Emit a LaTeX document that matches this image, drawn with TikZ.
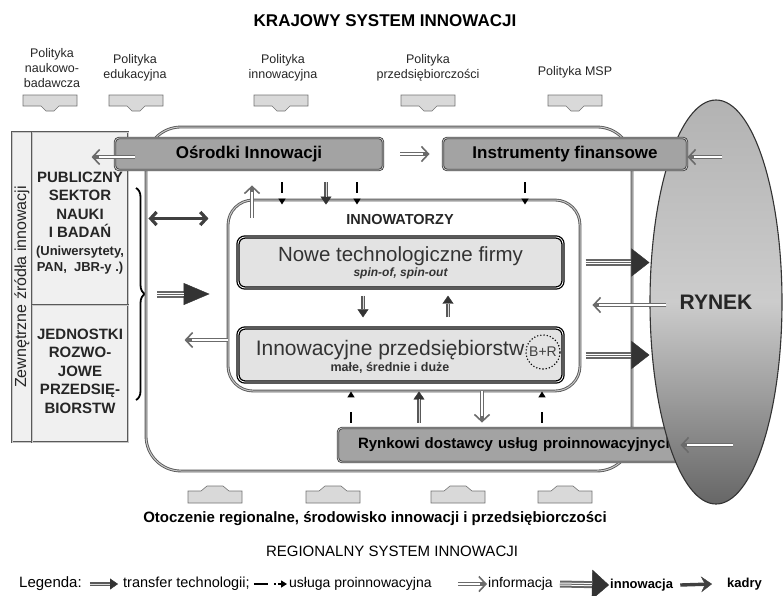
\documentclass[tikz,border=0pt]{standalone}
\usepackage{fontspec}
\setmainfont{Liberation Sans}
\usetikzlibrary{arrows.meta,calc,shapes.geometric,decorations.pathreplacing}

\newcommand{\fsz}[2]{\fontsize{#1}{#2}\selectfont}

\tikzset{
  ramka/.style={draw=black!65, double=black!22, double distance=1pt, line width=0.9pt},
  ksztalt/.style={draw=black!55, fill=black!15, line width=0.6pt},
  szary/.style={draw=black!75, double=black!12, double distance=0.6pt, line width=0.9pt, fill=black!36, rounded corners=4pt, inner sep=0pt, font=\fsz{17}{19}\bfseries},
  firma/.style={draw=black, double=white, double distance=0.8pt, line width=1.3pt, fill=black!11, rounded corners=7pt, inner sep=0pt},
  lewy/.style={ramka, fill=black!6, inner sep=0pt},
  lewytxt/.style={align=center, text=black!85, font=\fsz{15}{18.5}\bfseries},
  polityka/.style={align=center, text=black!85, font=\fsz{12.5}{15}},
  legenda/.style={anchor=west, inner sep=1pt, font=\fsz{14}{16}},
  info/.style={draw=black!58, line width=3.4pt, -{Straight Barb[length=7pt,width=15pt,line width=1.6pt]}, postaction={draw=white, line width=1.2pt, -, shorten >=7pt}},
  usluga/.style={black, line width=2pt, dash pattern=on 11pt off 20pt, -{Triangle[length=6pt,width=7pt]}},
  transfer/.style={draw=black!65, line width=3.2pt, -{Triangle[length=8pt,width=11pt,line width=0.4pt,color=black!80]}, postaction={draw=black!15, line width=0.9pt, -, shorten >=8pt}},
  innowacja/.style 2 args={draw=black!60, line width=7pt, -{Triangle[length=#1,width=#2,line width=0.4pt,color=black!80]}, postaction={draw=white, double=black!60, double distance=1pt, line width=1pt, -, shorten >=#1}},
  kadry/.style={draw=black!75, line width=3.4pt, -{Stealth[length=11pt,width=16pt,inset=4pt,line width=0.4pt]}},
  kadry2/.style={draw=black!75, line width=3.2pt, {Straight Barb[length=6pt,width=13pt]}-{Straight Barb[length=6pt,width=13pt]}},
}

\begin{document}
\begin{tikzpicture}[x=1pt, y=-1pt]
\useasboundingbox (0,0) rectangle (783,595);

\node (krajowy) at (385,21) {\fsz{17}{20}\bfseries KRAJOWY SYSTEM INNOWACJI};

\node[polityka] (pnb) at (52,68) {Polityka\\naukowo-\\badawcza};
\node[polityka] (ped) at (135,68) {Polityka\\edukacyjna};
\node[polityka] (pin) at (283,68) {Polityka\\innowacyjna};
\node[polityka] (ppr) at (428,68) {Polityka\\przedsiębiorczości};
\node[polityka] (pmsp) at (575,72) {Polityka MSP};

\foreach \x in {50,136,281,428,575}
  \draw[ksztalt] (\x-27,95) -- (\x+27,95) -- (\x+27,106) -- (\x+9,106) -- (\x+4,111) -- (\x-4,111) -- (\x-9,106) -- (\x-27,106) -- cycle;

\foreach \x in {215,333,458,565}
  \draw[ksztalt] (\x-27,503) -- (\x+27,503) -- (\x+27,491) -- (\x+14,491) -- (\x+8,486) -- (\x-8,486) -- (\x-14,491) -- (\x-27,491) -- cycle;

\node[lewy, minimum width=310pt, minimum height=20pt, rotate=90, text=black!85, font=\fsz{16}{18}] (zew) at (22,287) {Zewnętrzne źródła innowacji};
\node[lewy, minimum width=96pt, minimum height=173pt] (pub) at (80,218.5) {};
\node[lewytxt] (pubtxt) at (80,223) {PUBLICZNY\\SEKTOR\\NAUKI\\I BADAŃ\\[-1pt]{\fsz{13}{17}(Uniwersytety,}\\[-2pt]{\fsz{13}{17}PAN,~ JBR-y .)}};
\node[lewy, minimum width=96pt, minimum height=137pt] (jed) at (80,373.5) {};
\node[lewytxt] (jedtxt) at (80,371) {JEDNOSTKI\\ROZWO-\\JOWE\\PRZEDSIĘ-\\BIORSTW};

\draw[decorate, decoration={brace, amplitude=9pt}, line width=1.8pt] (136,188) -- (136,400);
\coordinate (brtip) at (145,294);

\draw[ramka, rounded corners=35pt] (146,127) rectangle (632,471);
\node[ramka, rounded corners=25pt, minimum width=352pt, minimum height=191pt, inner sep=0pt] (inn) at (404,295.5) {};
\node[font=\fsz{14.5}{16}\bfseries, text=black!85] (innlab) at (400,220) {INNOWATORZY};

\node[firma, minimum width=325pt, minimum height=51pt, align=center, text=black!80] (now) at (400.5,262.5) {{\fsz{20.5}{22}Nowe technologiczne firmy}\\[1pt]{\fsz{12}{14}\bfseries\itshape spin-of, spin-out}};
\node[firma, minimum width=325pt, minimum height=54pt] (ip) at (400.5,355) {};
\node[align=center, text=black!80] (iptxt) at (390,357) {{\fsz{21}{23}Innowacyjne przedsiębiorstw}\\[2pt]{\fsz{12.5}{14}\bfseries małe, średnie i duże}};
\node[circle, draw, line width=1.6pt, line cap=round, dash pattern=on 0pt off 3.2pt, minimum size=34pt, inner sep=0pt, text=black!75, font=\fsz{14}{16}] (br) at (543,352) {B+R};

\node[szary, minimum width=268pt, minimum height=32pt] (osr) at (249,154) {Ośrodki Innowacji};
\node[szary, minimum width=362pt, minimum height=34pt, font=\fsz{15}{17}\bfseries, text width=322pt, align=left] (ryn) at (519,445) {Rynkowi dostawcy usług proinnowacyjnych};
\node[ellipse, draw=black!80, line width=1.1pt, top color=black!30, bottom color=black!60, middle color=black!20, minimum width=132pt, minimum height=404pt, inner sep=0pt, font=\fsz{21}{24}\bfseries, text=black!85] (rynek) at (716,302) {RYNEK};
\node[szary, minimum width=244pt, minimum height=32pt] (fin) at (565,154) {Instrumenty finansowe};

\draw[info] ([xshift=20pt,yshift=-3pt]osr.west) -- ([xshift=-23pt,yshift=-3pt]osr.west);
\draw[info] ([xshift=17pt]osr.east) -- ([xshift=-13pt]fin.west);
\draw[info] ([xshift=35pt,yshift=-3pt]fin.east) -- ([yshift=-3pt]fin.east);
\draw[info] ([xshift=33pt]ryn.east) -- ([xshift=-20pt]ryn.east);
\draw[info] ([xshift=17pt,yshift=-3pt]rynek.west) -- ([xshift=-57pt,yshift=-3pt]rynek.west);
\draw[info] ($(inn.north -| 252,0)+(0,18)$) -- ($(osr.south -| 252,0)+(0,15)$);
\draw[info] ([yshift=-44.5pt]inn.west) -- ++(-43,0);
\draw[info] (inn.south -| 482,0) -- ($(ryn.north -| 482,0)+(0,-5)$);

\foreach \x in {282,357}
  \draw[usluga] ($(osr.south -| \x,0)+(0,12)$) -- ($(inn.north -| \x,0)+(0,5)$);
\draw[usluga] ($(fin.south -| 525,0)+(0,12)$) -- ($(inn.north -| 525,0)+(0,5)$);
\foreach \x in {351,542}
  \draw[usluga] ($(ryn.north -| \x,0)+(0,-5)$) -- (inn.south -| \x,0);

\draw[transfer] ($(osr.south -| 326,0)+(0,12)$) -- ($(inn.north -| 326,0)+(0,5)$);
\draw[transfer] ($(now.south -| 363,0)+(0,7)$) -- ($(ip.north -| 363,0)+(0,-10)$);
\draw[transfer] ($(ip.north -| 448,0)+(0,-10)$) -- ($(now.south -| 448,0)+(0,7)$);
\draw[transfer] ($(ryn.north -| 419,0)+(0,-5)$) -- (inn.south -| 419,0);

\draw[innowacja={26pt}{22pt}] ([xshift=12pt]brtip) -- ($(inn.west |- brtip)+(-18,0)$);
\draw[innowacja={18pt}{28pt}] ([xshift=22pt]now.east) -- (rynek.west |- now.east);
\draw[innowacja={18pt}{28pt}] ([xshift=22pt]ip.east) -- (rynek.west |- ip.east);

\draw[kadry2] ([xshift=20pt]pub.east) -- ([xshift=80pt]pub.east);

\node (otoczenie) at (375,519) {\fsz{15}{17}\bfseries Otoczenie regionalne, środowisko innowacji i przedsiębiorczości};
\node (regionalny) at (392,551) {\fsz{15}{17}REGIONALNY SYSTEM INNOWACJI};

\node[legenda, font=\fsz{15}{17}] (leg) at (18,584) {Legenda:};
\node[legenda, font=\fsz{14.5}{16}] (legtr) at (122,584) {transfer technologii;};
\node[legenda] (legus) at (288,584) {usługa proinnowacyjna};
\node[legenda] (legin) at (487,584) {informacja};
\node[legenda, font=\fsz{13}{15}\bfseries] (legino) at (609,585) {innowacja};
\node[legenda, font=\fsz{13}{15}\bfseries] (legka) at (726,584) {kadry};
\draw[transfer] ([xshift=7pt]leg.east) -- ([xshift=-4pt]legtr.west);
\draw[usluga, dash pattern=on 14pt off 6pt on 2pt off 2pt] ([xshift=3pt]legtr.east) -- ([xshift=-1pt]legus.west);
\draw[info] ([xshift=25pt]legus.east) -- (legin.west);
\draw[innowacja={17pt}{30pt}] ([xshift=6pt]legin.east) -- (legino.west);
\draw[kadry] ([xshift=6pt]legino.east) -- ([xshift=-14pt]legka.west);
\end{tikzpicture}
\end{document}
